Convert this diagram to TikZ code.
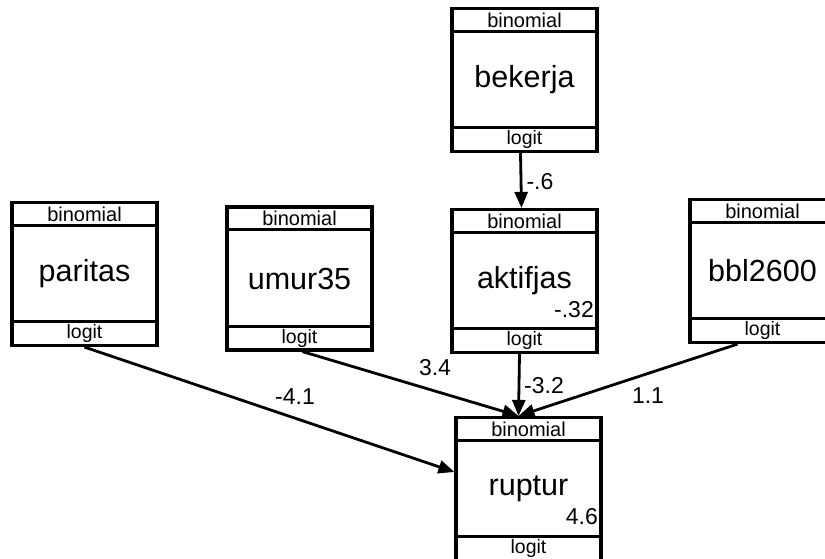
\documentclass[tikz,border=0pt]{standalone}
\usepackage{fontspec}
\setmainfont{Liberation Sans}
\usetikzlibrary{arrows.meta}

\begin{document}
\begin{tikzpicture}[x=1pt,y=-1pt,>={Triangle[length=16pt,width=13pt]}]
	\tikzset{
		var/.style={draw,line width=3.2pt,minimum width=145pt,minimum height=143pt,inner sep=0pt,font=\fontsize{30.5}{32}\selectfont},
		fam/.style={draw,line width=3pt,minimum width=145pt,minimum height=23pt,inner sep=0pt,font=\fontsize{20}{21}\selectfont},
		lnk/.style={draw,line width=3pt,minimum width=145pt,minimum height=24pt,inner sep=0pt,font=\fontsize{19.5}{20}\selectfont},
		coef/.style={inner sep=0pt,font=\fontsize{23}{24}\selectfont},
		path/.style={->,line width=2.8pt}
	}

	\useasboundingbox (0,0) rectangle (825,558);
	\clip (0,0) rectangle (825,558);

	% variables
	\foreach \nm/\x/\y in {paritas/84.5/274, umur35/299.5/278.5, bekerja/524.5/80, aktifjas/524.5/281, bbl2600/762.5/271, ruptur/528.5/489} {
		\node[var] (\nm) at (\x,\y) {\nm};
		\node[fam,anchor=north] (\nm-fam) at (\nm.north) {binomial};
		\node[lnk,anchor=south] (\nm-lnk) at (\nm.south) {logit};
	}

	% constantes
	\node[coef,anchor=east] (aktifjas-cons) at (594,310) {-.32};
	\node[coef,anchor=east] (ruptur-cons) at (598,517) {4.6};

	% chemins
	\coordinate (ruptur-in) at ([xshift=-10pt]ruptur.north);
	\draw[path] ([xshift=-4pt]bekerja.south) -- ([xshift=-3pt]aktifjas.north);
	\draw[path] (paritas.south) -- ([yshift=17pt]ruptur.west);
	\draw[path] ([xshift=3pt]umur35.south) -- (ruptur-in);
	\draw[path] ([xshift=-5pt]aktifjas.south) -- (ruptur-in);
	\draw[path] ([xshift=-25pt]bbl2600.south) -- (ruptur-in);

	% coefficients
	\node[coef] (c-bek) at (540,182) {-.6};
	\node[coef] (c-par) at (295,397) {-4.1};
	\node[coef] (c-umu) at (435,368) {3.4};
	\node[coef] (c-akt) at (544,386) {-3.2};
	\node[coef] (c-bbl) at (648,396) {1.1};

\end{tikzpicture}
\end{document}
